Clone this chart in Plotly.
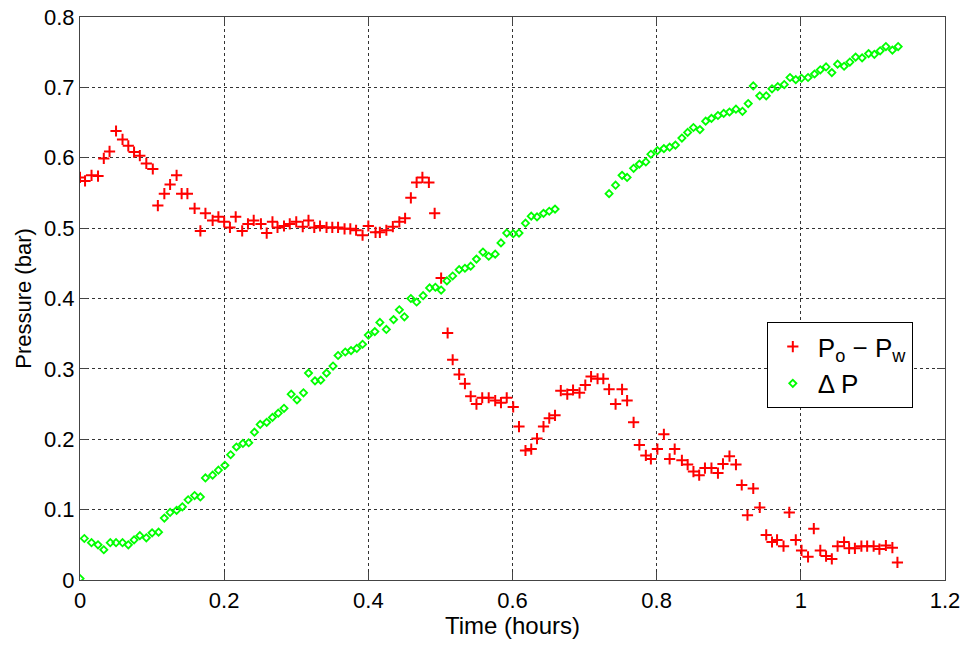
import plotly.graph_objects as go

# P_o - P_w series (time in hours, pressure in bar)
red_t = [0.000, 0.007, 0.016, 0.025, 0.033, 0.041, 0.050, 0.059, 0.067, 0.075,
         0.083, 0.092, 0.101, 0.108, 0.117, 0.125, 0.134, 0.141, 0.149, 0.159,
         0.167, 0.174, 0.184, 0.192, 0.200, 0.208, 0.216, 0.225, 0.233, 0.241,
         0.251, 0.259, 0.267, 0.274, 0.283, 0.291, 0.300, 0.309, 0.317, 0.325,
         0.333, 0.342, 0.350, 0.358, 0.367, 0.375, 0.383, 0.392, 0.400, 0.410,
         0.416, 0.425, 0.434, 0.443, 0.451, 0.459, 0.467, 0.475, 0.484, 0.492,
         0.501, 0.510, 0.517, 0.526, 0.534, 0.542, 0.550, 0.558, 0.567, 0.576,
         0.584, 0.592, 0.601, 0.609, 0.618, 0.626, 0.634, 0.643, 0.651, 0.659,
         0.667, 0.676, 0.684, 0.693, 0.701, 0.709, 0.718, 0.726, 0.734, 0.743,
         0.752, 0.759, 0.768, 0.776, 0.785, 0.792, 0.801, 0.810, 0.818, 0.825,
         0.835, 0.843, 0.851, 0.859, 0.867, 0.876, 0.885, 0.892, 0.901, 0.910,
         0.918, 0.926, 0.934, 0.943, 0.952, 0.960, 0.967, 0.976, 0.984, 0.993,
         1.001, 1.010, 1.018, 1.027, 1.035, 1.043, 1.051, 1.060, 1.067, 1.075,
         1.084, 1.092, 1.101, 1.109, 1.118, 1.127, 1.134]
red_p = [0.572, 0.567, 0.575, 0.574, 0.599, 0.609, 0.638, 0.626, 0.617, 0.608,
         0.603, 0.592, 0.584, 0.532, 0.549, 0.562, 0.575, 0.549, 0.549, 0.528,
         0.496, 0.521, 0.511, 0.516, 0.509, 0.501, 0.516, 0.496, 0.506, 0.511,
         0.506, 0.493, 0.509, 0.501, 0.503, 0.506, 0.509, 0.502, 0.511, 0.501,
         0.503, 0.501, 0.501, 0.501, 0.499, 0.499, 0.497, 0.490, 0.503, 0.494,
         0.494, 0.497, 0.502, 0.509, 0.514, 0.543, 0.565, 0.572, 0.565, 0.521,
         0.429, 0.351, 0.313, 0.292, 0.279, 0.261, 0.250, 0.259, 0.259, 0.255,
         0.252, 0.259, 0.246, 0.218, 0.184, 0.186, 0.201, 0.218, 0.230, 0.234,
         0.269, 0.264, 0.270, 0.266, 0.277, 0.289, 0.286, 0.286, 0.271, 0.250,
         0.271, 0.255, 0.224, 0.192, 0.177, 0.172, 0.186, 0.207, 0.172, 0.186,
         0.170, 0.164, 0.154, 0.149, 0.159, 0.159, 0.152, 0.165, 0.176, 0.164,
         0.135, 0.092, 0.130, 0.103, 0.064, 0.054, 0.057, 0.048, 0.096, 0.057,
         0.042, 0.033, 0.073, 0.042, 0.034, 0.030, 0.048, 0.054, 0.045, 0.045,
         0.048, 0.048, 0.048, 0.044, 0.049, 0.046, 0.025]

# Delta P series
green_t = [0.000, 0.006, 0.016, 0.025, 0.033, 0.042, 0.050, 0.059, 0.067, 0.075,
           0.083, 0.092, 0.100, 0.109, 0.117, 0.125, 0.134, 0.142, 0.150, 0.159,
           0.167, 0.174, 0.184, 0.192, 0.201, 0.209, 0.217, 0.226, 0.234, 0.242,
           0.250, 0.259, 0.267, 0.275, 0.283, 0.293, 0.301, 0.310, 0.317, 0.326,
           0.334, 0.342, 0.351, 0.358, 0.368, 0.376, 0.384, 0.392, 0.400, 0.409,
           0.416, 0.425, 0.435, 0.443, 0.450, 0.459, 0.467, 0.476, 0.485, 0.493,
           0.501, 0.509, 0.517, 0.526, 0.534, 0.542, 0.550, 0.559, 0.567, 0.576,
           0.584, 0.592, 0.601, 0.609, 0.618, 0.626, 0.634, 0.643, 0.651, 0.659,
           0.734, 0.743, 0.752, 0.759, 0.768, 0.776, 0.785, 0.792, 0.801, 0.810,
           0.818, 0.826, 0.835, 0.843, 0.851, 0.860, 0.868, 0.876, 0.885, 0.893,
           0.901, 0.910, 0.919, 0.927, 0.934, 0.943, 0.952, 0.960, 0.968, 0.977,
           0.985, 0.993, 1.001, 1.010, 1.019, 1.027, 1.035, 1.043, 1.051, 1.060,
           1.068, 1.076, 1.085, 1.094, 1.102, 1.110, 1.118, 1.127, 1.135]
green_p = [0.002, 0.059, 0.053, 0.050, 0.043, 0.053, 0.053, 0.053, 0.050, 0.057,
           0.063, 0.060, 0.067, 0.068, 0.088, 0.096, 0.099, 0.104, 0.114, 0.120,
           0.118, 0.145, 0.149, 0.156, 0.163, 0.178, 0.189, 0.194, 0.195, 0.210,
           0.221, 0.224, 0.231, 0.237, 0.244, 0.264, 0.256, 0.266, 0.294, 0.283,
           0.284, 0.294, 0.304, 0.319, 0.324, 0.326, 0.329, 0.335, 0.348, 0.353,
           0.366, 0.356, 0.370, 0.384, 0.374, 0.400, 0.395, 0.404, 0.415, 0.416,
           0.412, 0.425, 0.432, 0.441, 0.443, 0.446, 0.456, 0.466, 0.460, 0.463,
           0.479, 0.493, 0.492, 0.493, 0.507, 0.517, 0.516, 0.521, 0.524, 0.527,
           0.549, 0.561, 0.575, 0.572, 0.585, 0.591, 0.594, 0.605, 0.610, 0.613,
           0.615, 0.618, 0.628, 0.636, 0.643, 0.640, 0.652, 0.656, 0.660, 0.663,
           0.665, 0.669, 0.666, 0.677, 0.702, 0.688, 0.688, 0.698, 0.701, 0.704,
           0.714, 0.711, 0.713, 0.714, 0.719, 0.725, 0.729, 0.721, 0.733, 0.730,
           0.736, 0.743, 0.742, 0.748, 0.747, 0.752, 0.758, 0.753, 0.758]

x_ticks = [0, 0.2, 0.4, 0.6, 0.8, 1, 1.2]
x_tick_labels = ["0", "0.2", "0.4", "0.6", "0.8", "1", "1.2"]
y_ticks = [0, 0.1, 0.2, 0.3, 0.4, 0.5, 0.6, 0.7, 0.8]
y_tick_labels = ["0", "0.1", "0.2", "0.3", "0.4", "0.5", "0.6", "0.7", "0.8"]

FONT = "Liberation Sans, Arial, Helvetica, sans-serif"

fig = go.Figure()
fig.add_trace(go.Scatter(
    x=red_t, y=red_p, mode="markers", name="P<sub>o</sub> \u2212 P<sub>w</sub>",
    marker=dict(symbol="cross-thin", size=8, color="#ff0000",
                line=dict(color="#ff0000", width=2)),
))
fig.add_trace(go.Scatter(
    x=green_t, y=green_p, mode="markers", name="\u0394 P",
    marker=dict(symbol="diamond-open", size=5.5, color="#00ff00",
                line=dict(color="#00ff00", width=1.8)),
))

axis_common = dict(
    showline=True, linecolor="#444444", linewidth=1.2, mirror="ticks",
    ticks="inside", ticklen=8, tickcolor="#444444", tickwidth=1,
    showgrid=True, gridcolor="#333333", griddash="dot", gridwidth=1,
    zeroline=False, automargin=False,
)

fig.update_xaxes(range=[0, 1.2], tickvals=x_ticks, ticktext=x_tick_labels,
                 tickfont=dict(family=FONT, size=22, color="#000000"),
                 title=dict(text="Time (hours)", standoff=2,
                            font=dict(family=FONT, size=24, color="#000000")),
                 **axis_common)
fig.update_yaxes(range=[0, 0.8], tickvals=y_ticks, ticktext=y_tick_labels,
                 tickfont=dict(family=FONT, size=22, color="#000000"),
                 title=dict(text="Pressure (bar)", standoff=6,
                            font=dict(family=FONT, size=22, color="#000000")),
                 **axis_common)

fig.update_layout(
    width=968, height=645,
    margin=dict(l=80, r=23, t=17, b=65),
    paper_bgcolor="#ffffff", plot_bgcolor="#ffffff",
    showlegend=True,
    legend=dict(x=0.794, y=0.458, xanchor="left", yanchor="top",
                bordercolor="#000000", borderwidth=1, bgcolor="#ffffff",
                font=dict(family=FONT, size=26, color="#000000"),
                itemwidth=40, tracegroupgap=0),
)

fig.write_html("out.html")
